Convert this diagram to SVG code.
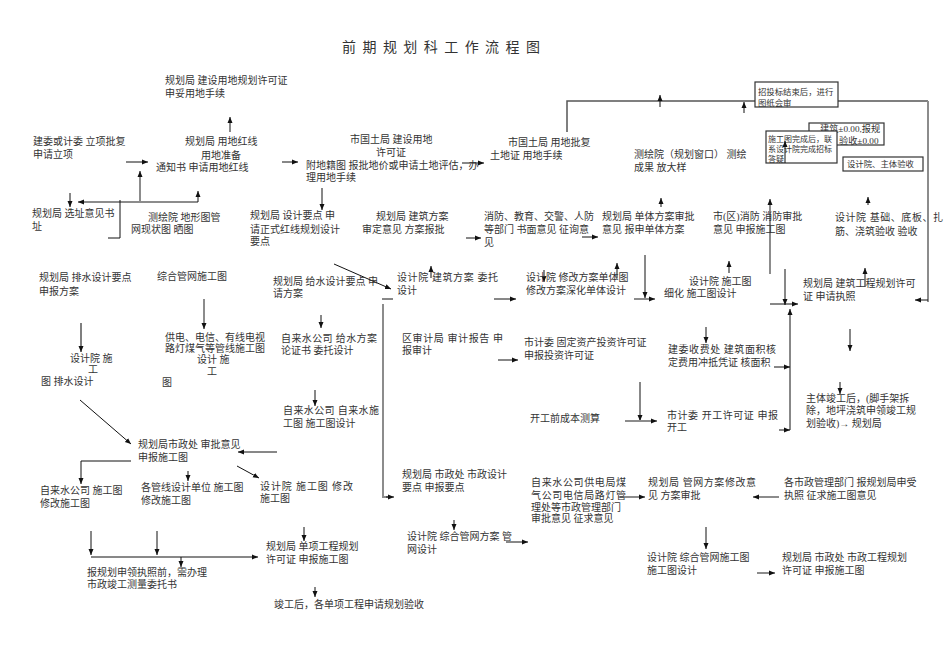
<svg xmlns="http://www.w3.org/2000/svg" width="950" height="672" viewBox="0 0 950 672">
<style>
text{font-family:"Liberation Serif","Noto Sans CJK SC",serif;fill:#333;font-size:10px}
.tt{font-size:14px}
.s9{font-size:8.4px}
.s8{font-size:8px}
.k{stroke:#111;stroke-width:1;fill:none}
.g{stroke:#8c8c8c;stroke-width:2;fill:none}
.d{stroke:#555;stroke-width:1.5;fill:none}
.bx{fill:#fff;stroke:#333;stroke-width:1.2}
</style>
<defs>
<marker id="a" markerUnits="userSpaceOnUse" markerWidth="7" markerHeight="7" refX="6" refY="3" orient="auto"><path d="M0,0.5 L6,3 L0,5.5 z" fill="#111"/></marker>
</defs>
<rect width="950" height="672" fill="#fff"/>
<g id="title"><text class="tt" x="342" y="52" textLength="198" lengthAdjust="spacing">前 期 规 划 科 工 作 流 程 图</text></g>

<g id="connectors">
<path class="k" d="M230,132 V117" marker-end="url(#a)"/>
<path class="k" d="M126,162 H148" marker-end="url(#a)"/>
<path class="k" d="M282,162 H298" marker-end="url(#a)"/>
<path class="g" d="M198,202 H78" marker-end="url(#a)"/>
<path class="g" d="M140,202 V171" marker-end="url(#a)"/>
<path class="k" d="M198,202 V191" marker-end="url(#a)"/>
<path class="k" d="M70,193 V207" marker-end="url(#a)"/>
<path class="k" d="M120,200 V238 H108"/>
<path class="k" d="M462,163 H484" marker-end="url(#a)"/>
<path class="k" d="M322,188 V210" marker-end="url(#a)"/>
<path class="d" d="M567,132 V101 H928"/>
<path class="g" d="M928,101 V302"/>
<path class="k" d="M928,300 H915" marker-end="url(#a)"/>
<path class="k" d="M660,107 V95" marker-end="url(#a)"/>
<path class="k" d="M744,113 V102" marker-end="url(#a)"/>
<path class="k" d="M661,207 V198" marker-end="url(#a)"/>
<path class="g" d="M770,274 V199" marker-end="url(#a)"/>
<path class="k" d="M868,205 V197" marker-end="url(#a)"/>
<path class="k" d="M466,238 H481" marker-end="url(#a)"/>
<path class="k" d="M582,237 H598" marker-end="url(#a)"/>
<path class="g" d="M204,299 V329" marker-end="url(#a)"/>
<path class="d" d="M81,323 V352" marker-end="url(#a)"/>
<path class="k" d="M80,400 L131,444" marker-end="url(#a)"/>
<path class="k" d="M334,264 L391,289" marker-end="url(#a)"/>
<path class="k" d="M382,299 H393"/>
<path class="g" d="M383,304 V497 H388"/>
<path class="k" d="M386,497 H394" marker-end="url(#a)"/>
<path class="k" d="M321,315 V328" marker-end="url(#a)"/>
<path class="k" d="M315,390 V406" marker-end="url(#a)"/>
<path class="k" d="M431,278 V266" marker-end="url(#a)"/>
<path class="k" d="M494,299 H516" marker-end="url(#a)"/>
<path class="k" d="M544,270 V282" marker-end="url(#a)"/>
<path class="k" d="M617,278 V263" marker-end="url(#a)"/>
<path class="k" d="M498,360 H518" marker-end="url(#a)"/>
<path class="k" d="M645,255 V298" marker-end="url(#a)"/>
<path class="g" d="M634,299 H655" marker-end="url(#a)"/>
<path class="k" d="M729,273 V261" marker-end="url(#a)"/>
<path class="k" d="M785,269 V305" marker-end="url(#a)"/>
<path class="k" d="M770,304 H798" marker-end="url(#a)"/>
<path class="k" d="M790,430 V309" marker-end="url(#a)"/>
<path class="k" d="M774,367 H790" marker-end="url(#a)"/>
<path class="k" d="M779,430 H790" marker-end="url(#a)"/>
<path class="k" d="M865,287 V268" marker-end="url(#a)"/>
<path class="k" d="M850,329 V351" marker-end="url(#a)"/>
<path class="k" d="M706,327 V343" marker-end="url(#a)"/>
<path class="k" d="M640,382 V421" marker-end="url(#a)"/>
<path class="g" d="M625,421 H657" marker-end="url(#a)"/>
<path class="k" d="M840,382 V394" marker-end="url(#a)"/>
<path class="k" d="M277,452 H238" marker-end="url(#a)"/>
<path class="k" d="M131,461 H81 V484" marker-end="url(#a)"/>
<path class="k" d="M188,471 V481" marker-end="url(#a)"/>
<path class="k" d="M237,466 L259,478" marker-end="url(#a)"/>
<path class="k" d="M91,531 V555" marker-end="url(#a)"/>
<path class="k" d="M157,531 V555" marker-end="url(#a)"/>
<path class="k" d="M91,557 H258" marker-end="url(#a)"/>
<path class="k" d="M181,557 V567" marker-end="url(#a)"/>
<path class="k" d="M304,527 V541" marker-end="url(#a)"/>
<path class="k" d="M315,587 V597" marker-end="url(#a)"/>
<path class="k" d="M454,520 V530" marker-end="url(#a)"/>
<path class="k" d="M506,542 H528" marker-end="url(#a)"/>
<path class="g" d="M620,497 H645" marker-end="url(#a)"/>
<path class="g" d="M779,497 H753" marker-end="url(#a)"/>
<path class="k" d="M706,527 V549" marker-end="url(#a)"/>
<path class="g" d="M757,573 H775" marker-end="url(#a)"/>
</g>

<g id="n1"><text x="165" y="84">规划局 建设用地规划许可证</text><text x="165" y="97">申妥用地手续</text></g>
<g id="n2"><text x="33" y="145">建委或计委 立项批复</text><text x="33" y="158">申请立项</text></g>
<g id="n3"><text x="185" y="145">规划局 用地红线</text><text x="201" y="159">用地准备</text><text x="156" y="171">通知书 申请用地红线</text></g>
<g id="n4"><text x="32" y="217">规划局 选址意见书</text><text x="32" y="230">址</text></g>
<g id="n5"><text x="148" y="221">测绘院 地形图管</text><text x="131" y="233">网现状图 晒图</text></g>
<g id="n6"><text x="250" y="219">规划局 设计要点 申</text><text x="250" y="233">请正式红线规划设计</text><text x="250" y="245">要点</text></g>
<g id="n7"><text x="350" y="143">市国土局 建设用地</text><text x="376" y="156">许可证</text><text x="306" y="169">附地籍图 报批地价或申请土地评估，办</text><text x="306" y="181">理用地手续</text></g>
<g id="n8"><text x="376" y="220">规划局 建筑方案</text><text x="362" y="233">审定意见 方案报批</text></g>
<g id="n9"><text x="508" y="146">市国土局 用地批复</text><text x="490" y="159">土地证 用地手续</text></g>
<g id="n10"><text x="634" y="158">测绘院（规划窗口） 测绘</text><text x="634" y="171">成果 放大样</text></g>
<g id="box-a"><rect class="bx" x="755" y="82" width="83" height="25"/><text class="s9" x="758" y="95">招投标结束后，进行</text><text class="s9" x="758" y="106">图纸会审</text></g>
<g id="box-b"><rect class="bx" x="809" y="123" width="75" height="22"/><text x="820" y="132" style="font-size:9.2px">建筑±0.00,报规</text><text x="839" y="144" style="font-size:9.2px">验收±0.00</text></g>
<g id="box-c"><rect class="bx" x="766" y="131" width="71" height="32"/><text class="s8" x="768" y="142">施工图完成后，联</text><text class="s8" x="768" y="152">系设计院完成招标</text><text class="s8" x="768" y="161.5">答疑</text><path class="k" d="M785,163 V141" marker-end="url(#a)"/></g>
<g id="box-d"><rect class="bx" x="843" y="157" width="80" height="14"/><text class="s9" x="847" y="167">设计院、主体验收</text></g>
<g id="n11"><text x="602" y="220">规划局 单体方案审批</text><text x="602" y="233">意见 报申单体方案</text></g>
<g id="n12"><text x="713" y="220">市(区)消防 消防审批</text><text x="713" y="233">意见 申报施工图</text></g>
<g id="n13"><text x="835" y="221" textLength="108" lengthAdjust="spacing">设计院 基础、底板、扎</text><text x="835" y="235">筋、浇筑验收 验收</text></g>
<g id="n14"><text x="484" y="220">消防、教育、交警、人防</text><text x="484" y="233">等部门 书面意见 征询意</text><text x="484" y="246">见</text></g>
<g id="n15"><text x="39" y="281">规划局 排水设计要点</text><text x="39" y="295">申报方案</text></g>
<g id="n16"><text x="157" y="280">综合管网施工图</text></g>
<g id="n17"><text x="165" y="341">供电、电信、有线电视</text><text x="165" y="352">路灯煤气等管线施工图</text><text x="197" y="363">设计 施</text><text x="207" y="375">工</text><text x="162" y="386">图</text></g>
<g id="n18"><text x="70" y="362">设计院 施</text><text x="88" y="373">工</text><text x="41" y="385">图 排水设计</text></g>
<g id="n19"><text x="273" y="285">规划局 给水设计要点 申</text><text x="273" y="297">请方案</text></g>
<g id="n20"><text x="281" y="342" textLength="96" lengthAdjust="spacing">自来水公司 给水方案</text><text x="281" y="354">论证书 委托设计</text></g>
<g id="n21"><text x="283" y="414" textLength="96" lengthAdjust="spacing">自来水公司 自来水施</text><text x="283" y="427">工图 施工图设计</text></g>
<g id="n22"><text x="397" y="281" textLength="101" lengthAdjust="spacing">设计院 建筑方案 委托</text><text x="397" y="294">设计</text></g>
<g id="n23"><text x="526" y="281">设计院 修改方案单体图</text><text x="526" y="294">修改方案深化单体设计</text></g>
<g id="n24"><text x="689" y="285">设计院 施工图</text><text x="664" y="297">细化 施工图设计</text></g>
<g id="n25"><text x="803" y="287">规划局 建筑工程规划许可</text><text x="803" y="300">证 申请执照</text></g>
<g id="n26"><text x="402" y="342" textLength="101" lengthAdjust="spacing">区审计局 审计报告 申</text><text x="402" y="354">报审计</text></g>
<g id="n27"><text x="524" y="346">市计委 固定资产投资许可证</text><text x="524" y="359">申报投资许可证</text></g>
<g id="n28"><text x="668" y="353" textLength="108" lengthAdjust="spacing">建委收费处 建筑面积核</text><text x="668" y="366">定费用冲抵凭证 核面积</text></g>
<g id="n29"><text x="530" y="422">开工前成本测算</text></g>
<g id="n30"><text x="667" y="419" textLength="111" lengthAdjust="spacing">市计委 开工许可证 申报</text><text x="667" y="431">开工</text></g>
<g id="n31"><text x="806" y="402">主体竣工后，(脚手架拆</text><text x="806" y="414">除，地坪浇筑申领竣工规</text><text x="806" y="427">划验收)→ 规划局</text></g>
<g id="n32"><text x="138" y="448">规划局市政处 审批意见</text><text x="138" y="461">申报施工图</text></g>
<g id="n33"><text x="40" y="494">自来水公司 施工图</text><text x="40" y="507">修改施工图</text></g>
<g id="n34"><text x="141" y="491">各管线设计单位 施工图</text><text x="141" y="504">修改施工图</text></g>
<g id="n35"><text x="260" y="490" textLength="93" lengthAdjust="spacing">设计院 施工图 修改</text><text x="260" y="502">施工图</text></g>
<g id="n36"><text x="402" y="478">规划局 市政处 市政设计</text><text x="402" y="491">要点 申报要点</text></g>
<g id="n37"><text x="531" y="486" textLength="95" lengthAdjust="spacing">自来水公司供电局煤</text><text x="531" y="499" textLength="95" lengthAdjust="spacing">气公司电信局路灯管</text><text x="531" y="511">理处等市政管理部门</text><text x="531" y="522">审批意见 征求意见</text></g>
<g id="n38"><text x="648" y="486" textLength="108" lengthAdjust="spacing">规划局 管网方案修改意</text><text x="648" y="499">见 方案审批</text></g>
<g id="n39"><text x="784" y="486">各市政管理部门 报规划局申受</text><text x="784" y="499">执照 征求施工图意见</text></g>
<g id="n40"><text x="407" y="540">设计院 综合管网方案 管</text><text x="407" y="553">网设计</text></g>
<g id="n41"><text x="647" y="561">设计院 综合管网施工图</text><text x="647" y="574">施工图设计</text></g>
<g id="n42"><text x="782" y="561">规划局 市政处 市政工程规划</text><text x="782" y="574">许可证 申报施工图</text></g>
<g id="n43"><text x="266" y="550">规划局 单项工程规划</text><text x="266" y="563">许可证 申报施工图</text></g>
<g id="n44"><text x="87" y="576">报规划申领执照前，需办理</text><text x="87" y="588">市政竣工测量委托书</text></g>
<g id="n45"><text x="274" y="608">竣工后，各单项工程申请规划验收</text></g>
</svg>
